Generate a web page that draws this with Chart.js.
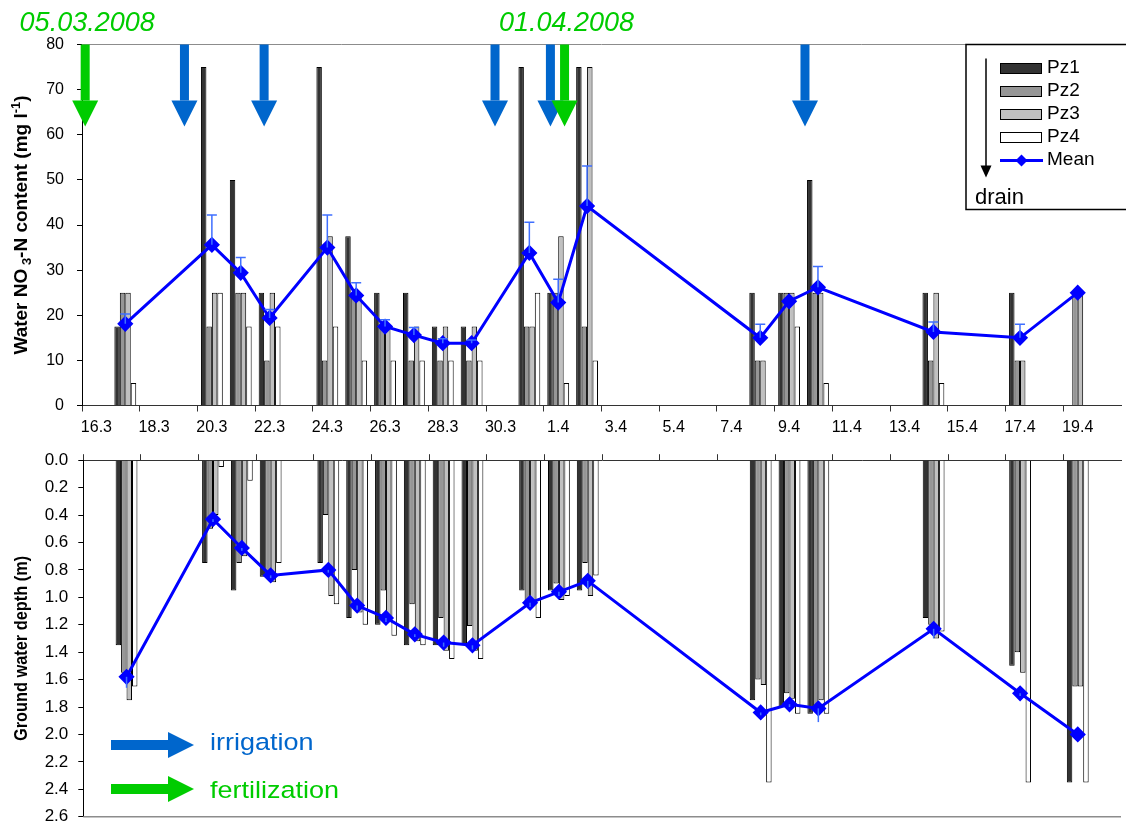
<!DOCTYPE html>
<html>
<head>
<meta charset="utf-8">
<title>NO3-N content and ground water depth</title>
<script src="https://cdn.jsdelivr.net/npm/chart.js@4.4.1/dist/chart.umd.min.js"></script>
<style>
  html, body { margin: 0; padding: 0; background: #fff; overflow: hidden; }
  body { width: 1126px; height: 821px; position: relative; }
  canvas { position: absolute; left: 0; }
  #no3Chart { top: 0; }
  #depthChart { top: 440px; }
</style>
</head>
<body>
<canvas id="no3Chart" width="1130" height="440"></canvas>
<canvas id="depthChart" width="1130" height="400"></canvas>
<script>
// every day on the axis (one category per day)
const allDays = [
    '16.3', '17.3', '18.3', '19.3', '20.3', '21.3', '22.3', '23.3', '24.3', '25.3', '26.3', '27.3',
    '28.3', '29.3', '30.3', '31.3', '1.4', '2.4', '3.4', '4.4', '5.4', '6.4', '7.4', '8.4',
    '9.4', '10.4', '11.4', '12.4', '13.4', '14.4', '15.4', '16.4', '17.4', '18.4', '19.4', '20.4'
];
const dateTicks = ['16.3', '18.3', '20.3', '22.3', '24.3', '26.3', '28.3', '30.3', '1.4', '3.4',
    '5.4', '7.4', '9.4', '11.4', '13.4', '15.4', '17.4', '19.4'];
const no3Ticks = [0, 10, 20, 30, 40, 50, 60, 70, 80];
const depthTicks = [0, 0.2, 0.4, 0.6, 0.8, 1.0, 1.2, 1.4, 1.6, 1.8, 2.0, 2.2, 2.4, 2.6];

// sampling days
const sampleDays = ['17.3', '20.3', '21.3', '22.3', '24.3', '25.3', '26.3', '27.3', '28.3', '29.3',
    '31.3', '1.4', '2.4', '8.4', '9.4', '10.4', '14.4', '17.4', '19.4'];

// water NO3-N content (mg/l)
const no3Pz1 = [17.5, 75, 50, 25, 75, 37.5, 25, 25, 17.5, 17.5, 75, 25, 75, 25, 25, 50, 25, 25, null];
const no3Pz2 = [25, 17.5, 25, 10, 10, 25, 17.5, 10, 10, 10, 17.5, 25, 17.5, 10, 25, 25, 10, 10, 25];
const no3Pz3 = [25, 25, 25, 25, 37.5, 25, 17.5, 17.5, 17.5, 17.5, 17.5, 37.5, 75, 10, 25, 25, 25, 10, 25];
const no3Pz4 = [5, 25, 17.5, 17.5, 17.5, 10, 10, 10, 10, 10, 25, 5, 10, null, 17.5, 5, 5, null, null];
const no3Mean = [18.1, 35.6, 29.4, 19.4, 35, 24.4, 17.5, 15.6, 13.8, 13.8, 33.8, 22.8, 44.2, 15, 23.1, 26.2, 16.3, 15, 25];
const no3Err = [2.2, 6.6, 3.4, 1.9, 7.2, 2.8, 1.5, 1.7, 1.0, 0.7, 6.8, 5.2, 8.9, 3, 0, 4.6, 2.2, 3, 0];

// ground water depth (m)
const depthPz1 = [1.35, 0.75, 0.95, 0.85, 0.75, 1.15, 1.2, 1.35, 1.35, 1.35, 0.95, 0.95, 0.95, 1.75, 1.8, 1.85, 1.15, 1.5, 2.35];
const depthPz2 = [1.55, 0.5, 0.75, 0.86, 0.4, 0.8, 0.95, 1.05, 1.15, 1.21, 1.05, 0.9, 0.75, 1.6, 1.7, 1.8, 1.2, 1.4, 1.65];
const depthPz3 = [1.75, 0.4, 0.7, 0.89, 0.99, 1.11, 1.16, 1.32, 1.39, 1.39, 1.03, 1.02, 0.99, 1.64, 1.74, 1.75, 1.3, 1.55, 1.65];
const depthPz4 = [1.65, 0.05, 0.15, 0.75, 1.05, 1.2, 1.28, 1.35, 1.45, 1.45, 1.15, 0.99, 0.84, 2.35, 1.85, 1.85, 1.25, 2.35, 2.35];
const depthMean = [1.58, 0.43, 0.64, 0.84, 0.8, 1.06, 1.15, 1.27, 1.33, 1.35, 1.04, 0.96, 0.88, 1.84, 1.78, 1.81, 1.23, 1.7, 2.0];
const depthErr = [0.08, 0.02, 0.02, 0.02, 0.02, 0.03, 0.03, 0.02, 0.03, 0.03, 0.03, 0.03, 0.05, 0.02, 0.02, 0.1, 0.07, 0.02, 0];

// management events, as positions on the day axis (category index)
const irrigationAt = [3.05, 5.81, 13.81, 15.73, 24.55];
const fertilizationAt = [-0.39, 16.22];
const fertilizationDates = ['05.03.2008', '01.04.2008'];

const FONT = '"Liberation Sans", Arial, sans-serif';
const BLUE = '#0066cc';
const GREEN = '#00cc00';
const MEAN = '#0000ff';
const ERR = '#3f6fff';
const PZ_COLORS = ['#333333', '#969696', '#c0c0c0', '#ffffff'];

Chart.defaults.font.family = FONT;
Chart.defaults.color = '#000';

// put the sampled values on the full day axis
function onAxis(values) {
    return allDays.map(d => {
        const i = sampleDays.indexOf(d);
        return i < 0 ? null : values[i];
    });
}

function tickColor(c) {
    return dateTicks.includes(allDays[c.index]) ? '#333' : 'rgba(0,0,0,0)';
}

function downArrow(ctx, x, yTop, yTip, color) {
    ctx.fillStyle = color;
    ctx.fillRect(x - 4.5, yTop, 9, yTip - 26 - yTop);
    ctx.beginPath();
    ctx.moveTo(x - 13, yTip - 26);
    ctx.lineTo(x + 13, yTip - 26);
    ctx.lineTo(x, yTip);
    ctx.closePath();
    ctx.fill();
}

function rightArrow(ctx, x0, x1, y, color) {
    ctx.fillStyle = color;
    ctx.fillRect(x0, y - 5, x1 - x0 - 26, 10);
    ctx.beginPath();
    ctx.moveTo(x1 - 26, y - 13);
    ctx.lineTo(x1 - 26, y + 13);
    ctx.lineTo(x1, y);
    ctx.closePath();
    ctx.fill();
}

// rotated axis title with sub/superscripts; squash < 1 shortens it along the axis
function verticalTitle(ctx, parts, x, yCenter, squash) {
    ctx.save();
    let total = 0;
    parts.forEach(p => {
        ctx.font = 'bold ' + p.size + 'px ' + FONT;
        p.w = ctx.measureText(p.t).width;
        total += p.w;
    });
    ctx.translate(x, yCenter);
    ctx.rotate(-Math.PI / 2);
    ctx.scale(squash || 1, 1);
    ctx.fillStyle = '#000';
    ctx.textBaseline = 'middle';
    let cx = -total / 2;
    parts.forEach(p => {
        ctx.font = 'bold ' + p.size + 'px ' + FONT;
        ctx.fillText(p.t, cx, p.dy || 0);
        cx += p.w;
    });
    ctx.restore();
}

const errorBars = {
    id: 'errorBars',
    afterDatasetsDraw(chart, args, opts) {
        const ctx = chart.ctx;
        const meta = chart.getDatasetMeta(opts.datasetIndex);
        const data = chart.data.datasets[opts.datasetIndex].data;
        const y = chart.scales.y;
        ctx.save();
        ctx.strokeStyle = ERR;
        ctx.lineWidth = 1.5;
        opts.values.forEach((e, i) => {
            if (data[i] == null || !e) return;
            const px = meta.data[i].x;
            const y0 = y.getPixelForValue(data[i]);
            const y1 = y.getPixelForValue(data[i] + e);
            ctx.beginPath();
            ctx.moveTo(px, y0);
            ctx.lineTo(px, y1);
            if (opts.cap) {
                ctx.moveTo(px - opts.cap / 2, y1);
                ctx.lineTo(px + opts.cap / 2, y1);
            }
            ctx.stroke();
        });
        ctx.restore();
    }
};

const topDecor = {
    id: 'topDecor',
    afterDraw(chart) {
        const { ctx, chartArea: a } = chart;
        const x = chart.scales.x;
        ctx.save();
        ctx.strokeStyle = '#8c8c8c';
        ctx.lineWidth = 1;
        ctx.beginPath();
        ctx.moveTo(a.left, a.top);
        ctx.lineTo(a.right, a.top);
        ctx.stroke();

        irrigationAt.forEach(v => downArrow(ctx, x.getPixelForValue(v), a.top, a.top + 82, BLUE));
        ctx.font = 'italic 27px ' + FONT;
        ctx.textAlign = 'center';
        ctx.textBaseline = 'alphabetic';
        fertilizationAt.forEach((v, i) => {
            const px = x.getPixelForValue(v);
            downArrow(ctx, px, a.top, a.top + 82, GREEN);
            ctx.fillStyle = GREEN;
            ctx.fillText(fertilizationDates[i], px + 2, 31);
        });

        // legend box
        const bx = 966, by = a.top, bw = chart.width - bx + 4, bh = 165;
        ctx.fillStyle = '#fff';
        ctx.fillRect(bx, by, bw, bh);
        ctx.strokeStyle = '#000';
        ctx.lineWidth = 1.5;
        ctx.strokeRect(bx, by, bw, bh);
        ctx.beginPath();
        ctx.moveTo(986, by + 14);
        ctx.lineTo(986, by + 122);
        ctx.stroke();
        ctx.fillStyle = '#000';
        ctx.beginPath();
        ctx.moveTo(980.5, by + 121);
        ctx.lineTo(991.5, by + 121);
        ctx.lineTo(986, by + 133);
        ctx.closePath();
        ctx.fill();

        ctx.textAlign = 'left';
        ctx.textBaseline = 'middle';
        ctx.font = '19px ' + FONT;
        chart.data.datasets.forEach((ds, i) => {
            const ry = by + 24 + i * 23;
            if (ds.type === 'line') {
                ctx.strokeStyle = ds.borderColor;
                ctx.lineWidth = 3;
                ctx.beginPath();
                ctx.moveTo(1000, ry);
                ctx.lineTo(1043, ry);
                ctx.stroke();
                ctx.fillStyle = ds.borderColor;
                ctx.beginPath();
                ctx.moveTo(1021.5, ry - 6);
                ctx.lineTo(1027.5, ry);
                ctx.lineTo(1021.5, ry + 6);
                ctx.lineTo(1015.5, ry);
                ctx.closePath();
                ctx.fill();
            } else {
                ctx.fillStyle = ds.backgroundColor;
                ctx.fillRect(1000.5, ry - 5, 41, 10);
                ctx.strokeStyle = '#000';
                ctx.lineWidth = 1;
                ctx.strokeRect(1000.5, ry - 5, 41, 10);
            }
            ctx.fillStyle = '#000';
            ctx.fillText(ds.label, 1047, ry - 1);
        });
        ctx.font = '22px ' + FONT;
        ctx.textBaseline = 'alphabetic';
        ctx.fillText('drain', 975, by + 159);
        ctx.restore();

        verticalTitle(ctx, [
            { t: 'Water NO', size: 19 },
            { t: ' 3', size: 13, dy: 5 },
            { t: '-N content (mg l', size: 19 },
            { t: '-1', size: 13, dy: -6 },
            { t: ')', size: 19 }
        ], 22, (a.top + a.bottom) / 2);
    }
};

function squashedText(ctx, text, x, y, sy) {
    ctx.save();
    ctx.translate(x, y);
    ctx.scale(1, sy);
    ctx.fillText(text, 0, 0);
    ctx.restore();
}

const bottomDecor = {
    id: 'bottomDecor',
    afterDraw(chart) {
        const { ctx, chartArea: a } = chart;
        ctx.save();
        ctx.strokeStyle = '#8c8c8c';
        ctx.lineWidth = 1.5;
        ctx.beginPath();
        ctx.moveTo(a.left, a.bottom);
        ctx.lineTo(a.right, a.bottom);
        ctx.stroke();

        rightArrow(ctx, 111, 194, 305, BLUE);
        rightArrow(ctx, 111, 194, 349, GREEN);
        ctx.font = '27px ' + FONT;
        ctx.textAlign = 'left';
        ctx.textBaseline = 'alphabetic';
        ctx.fillStyle = BLUE;
        squashedText(ctx, 'irrigation', 210, 310, 0.88);
        ctx.fillStyle = GREEN;
        squashedText(ctx, 'fertilization', 210, 358, 0.88);
        ctx.restore();

        verticalTitle(ctx, [{ t: 'Ground water depth (m)', size: 19 }], 22, (a.top + a.bottom) / 2 + 10, 0.86);
    }
};

function barSets(series) {
    return series.map((vals, i) => ({
        type: 'bar',
        label: 'Pz' + (i + 1),
        data: onAxis(vals),
        backgroundColor: PZ_COLORS[i],
        borderColor: '#000',
        borderWidth: 1,
        categoryPercentage: 0.757,
        barPercentage: 1.0,
        order: 1
    }));
}

function meanSet(vals) {
    return {
        type: 'line',
        label: 'Mean',
        data: onAxis(vals),
        borderColor: MEAN,
        backgroundColor: MEAN,
        borderWidth: 3,
        pointStyle: 'rectRot',
        pointRadius: 6,
        pointBackgroundColor: MEAN,
        pointBorderColor: MEAN,
        spanGaps: true,
        tension: 0,
        order: 0
    };
}

// top: water NO3-N content
new Chart(document.getElementById('no3Chart'), {
    type: 'bar',
    data: {
        labels: allDays,
        datasets: barSets([no3Pz1, no3Pz2, no3Pz3, no3Pz4]).concat([meanSet(no3Mean)])
    },
    options: {
        responsive: false,
        animation: false,
        events: [],
        layout: { padding: { top: 44.5, right: 2, left: 0, bottom: 0 } },
        plugins: {
            legend: { display: false },
            tooltip: { enabled: false },
            errorBars: { datasetIndex: 4, values: onAxis(no3Err), cap: 10 }
        },
        scales: {
            x: {
                offset: true,
                grid: { offset: true, drawOnChartArea: false, tickLength: 6, color: tickColor },
                border: { color: '#333', width: 1 },
                ticks: {
                    autoSkip: false, maxRotation: 0, minRotation: 0, padding: 6,
                    font: { size: 16 },
                    callback: (v, i) => dateTicks.includes(allDays[i]) ? allDays[i] : ''
                },
                afterFit: s => { s.height = 34.5; }
            },
            y: {
                min: 0,
                max: 80,
                afterBuildTicks: s => { s.ticks = no3Ticks.map(v => ({ value: v })); },
                grid: { drawOnChartArea: false, tickLength: 5, color: '#000' },
                border: { color: '#000', width: 1 },
                ticks: { padding: 13, font: { size: 16 }, callback: v => v },
                afterFit: s => { s.width = 82; }
            }
        }
    },
    plugins: [errorBars, topDecor]
});

// bottom: ground water depth
new Chart(document.getElementById('depthChart'), {
    type: 'bar',
    data: {
        labels: allDays,
        datasets: barSets([depthPz1, depthPz2, depthPz3, depthPz4]).concat([meanSet(depthMean)])
    },
    options: {
        responsive: false,
        animation: false,
        events: [],
        layout: { padding: { top: 0, right: 0, left: 0, bottom: 23.3 } },
        plugins: {
            legend: { display: false },
            tooltip: { enabled: false },
            errorBars: { datasetIndex: 4, values: onAxis(depthErr), cap: 0 }
        },
        scales: {
            x: {
                position: 'top',
                offset: true,
                grid: { offset: true, drawOnChartArea: false, tickLength: 6, color: tickColor },
                border: { color: '#333', width: 1 },
                ticks: { autoSkip: false, maxRotation: 0, minRotation: 0, callback: () => '' },
                afterFit: s => { s.height = 12.7; }
            },
            y: {
                reverse: true,
                min: 0,
                max: 2.6,
                afterBuildTicks: s => { s.ticks = depthTicks.map(v => ({ value: v })); },
                grid: { drawOnChartArea: false, tickLength: 5, color: '#000' },
                border: { color: '#000', width: 1 },
                ticks: { padding: 10, font: { size: 17 }, callback: v => v.toFixed(1) },
                afterFit: s => { s.width = 83.3; }
            }
        }
    },
    plugins: [errorBars, bottomDecor]
});
</script>
</body>
</html>
